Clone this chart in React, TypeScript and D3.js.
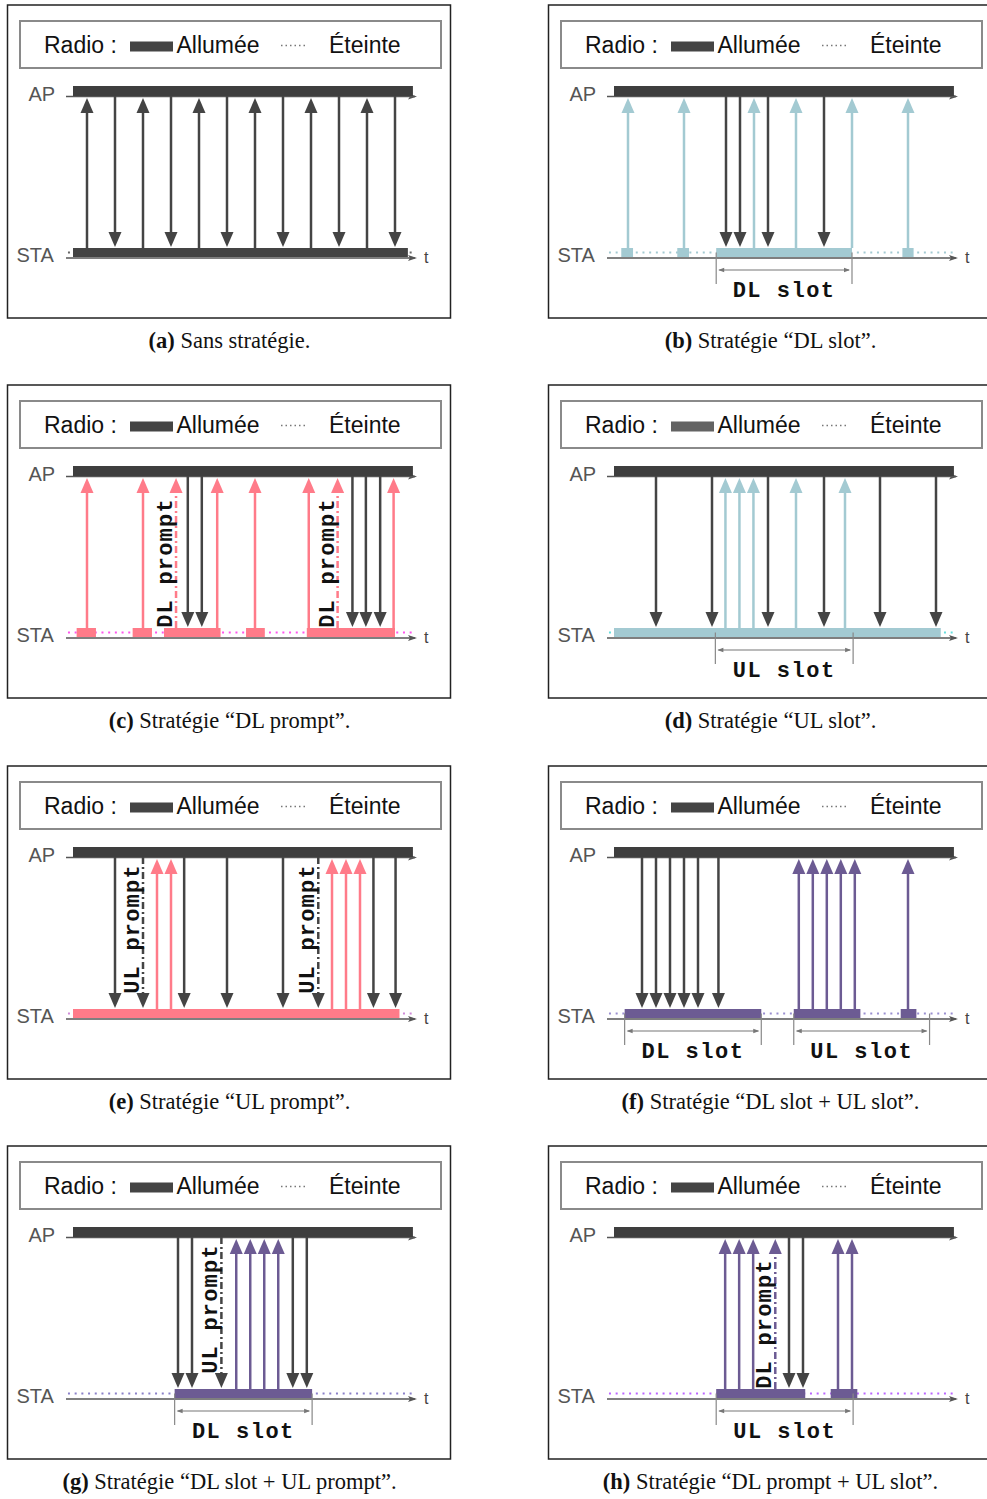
import React from "react";
import * as d3 from "d3";

// ---------- data ----------
const panelIds = ["a", "b", "c", "d", "e", "f", "g", "h"];
const captions = [
  "Sans stratégie.",
  "Stratégie “DL slot”.",
  "Stratégie “DL prompt”.",
  "Stratégie “UL slot”.",
  "Stratégie “UL prompt”.",
  "Stratégie “DL slot + UL slot”.",
  "Stratégie “DL slot + UL prompt”.",
  "Stratégie “DL prompt + UL slot”.",
];
const legendLabels = ["Radio :", "Allumée", "Éteinte"];
const nodeLabels = ["AP", "STA", "t"];

const themeColors = ["#444444", "#a3cad2", "#ff7b89", "#a3cad2", "#ff7b89", "#6c5b93", "#6c5b93", "#6c5b93"];
const dotColors = ["#666666", "#a3cad2", "#ff55ee", "#66dede", "#d08ad8", "#9a8fd0", "#8a80c8", "#bb66ff"];
const legendBarColors = ["#444444", "#444444", "#444444", "#636363", "#444444", "#444444", "#444444", "#444444"];

// STA radio "on" intervals (time units)
const staOn_a = [[0, 11.96]];
const staOn_b = [[0.26, 0.68], [2.26, 2.68], [3.65, 8.5], [10.3, 10.7]];
const staOn_c = [[0.13, 0.82], [2.13, 2.82], [3.25, 5.27], [6.18, 6.85], [8.35, 11.5]];
const staOn_d = [[0, 11.67]];
const staOn_e = [[0, 11.66]];
const staOn_f = [[0.38, 5.26], [6.42, 8.8], [10.24, 10.8]];
const staOn_g = [[3.63, 8.54]];
const staOn_h = [[3.65, 6.83], [7.74, 8.69]];

// uplink (STA -> AP) arrows
const up_a = [0.5, 2.5, 4.5, 6.5, 8.5, 10.5];
const up_b = [0.5, 2.5, 5.0, 6.5, 8.5, 10.5];
const up_c = [0.5, 2.5, 5.15, 6.5, 8.42, 11.45];
const up_d = [3.98, 4.48, 4.98, 6.5, 8.25];
const up_e = [3.0, 3.5, 9.25, 9.75, 10.25];
const up_f = [6.6, 7.1, 7.6, 8.1, 8.6, 10.5];
const up_g = [5.83, 6.33, 6.83, 7.33];
const up_h = [3.97, 4.47, 4.97, 8.0, 8.5];

// downlink (AP -> STA) arrows
const down_a = [1.5, 3.5, 5.5, 7.5, 9.5, 11.5];
const down_b = [4.0, 4.5, 5.5, 7.5];
const down_c = [4.1, 4.6, 9.98, 10.46, 10.97];
const down_d = [1.5, 3.5, 5.5, 7.5, 9.5, 11.5];
const down_e = [1.5, 3.97, 5.5, 7.5, 10.73, 11.52];
const down_f = [1.0, 1.5, 2.0, 2.5, 3.0, 3.73];
const down_g = [3.75, 4.25, 7.85, 8.35];
const down_h = [6.25, 6.75];

// prompt (dashed) arrows
const promptUp_c = [3.68, 9.45];
const promptDown_e = [2.5, 8.76];
const promptDown_g = [5.3];
const promptUp_h = [5.76];
const promptLabels = ["DL prompt", "UL prompt"];

// slots
const slots_b = [[3.65, 8.5]];
const slots_d = [[3.62, 8.54]];
const slots_f = [[0.38, 5.26], [6.42, 11.27]];
const slots_g = [[3.63, 8.54]];
const slots_h = [[3.65, 8.54]];
const slotNames = ["DL slot", "UL slot"];

const panels = [
  { sta: staOn_a, up: up_a, down: down_a, pUp: [], pDown: [], slots: [], slotNames: [] },
  { sta: staOn_b, up: up_b, down: down_b, pUp: [], pDown: [], slots: slots_b, slotNames: [slotNames[0]] },
  { sta: staOn_c, up: up_c, down: down_c, pUp: promptUp_c, pDown: [], slots: [], slotNames: [] },
  { sta: staOn_d, up: up_d, down: down_d, pUp: [], pDown: [], slots: slots_d, slotNames: [slotNames[1]] },
  { sta: staOn_e, up: up_e, down: down_e, pUp: [], pDown: promptDown_e, slots: [], slotNames: [] },
  { sta: staOn_f, up: up_f, down: down_f, pUp: [], pDown: [], slots: slots_f, slotNames: slotNames },
  { sta: staOn_g, up: up_g, down: down_g, pUp: [], pDown: promptDown_g, slots: slots_g, slotNames: [slotNames[0]] },
  { sta: staOn_h, up: up_h, down: down_h, pUp: promptUp_h, pDown: [], slots: slots_h, slotNames: [slotNames[1]] },
];

// ---------- layout ----------
const colX = [8, 549];
const rowY = [5, 385, 766, 1146];
const PW = 443;
const PH = 313;
const SANS = "'Liberation Sans', Arial, sans-serif";
const MONO = "'Liberation Mono', 'DejaVu Sans Mono', monospace";
const SERIF = "'Liberation Serif', 'Times New Roman', serif";
const DARK = "#444444";

const x = d3.scaleLinear().domain([0, 12]).range([65, 401]);

const AP_TOP = 81;
const AP_BOT = 91;
const STA_TOP = 243;
const STA_BOT = 252;
const STA_MID = 247.5;
const AXIS_AP = 91.5;
const AXIS_STA = 253;
const HEAD_L = 15;
const HEAD_W = 6.5;

function UpArrow({ t, color, dashed }: { t: number; color: string; dashed?: boolean }) {
  const cx = x(t);
  const tip = AP_BOT + 2;
  return (
    <g>
      <line x1={cx} x2={cx} y1={STA_TOP} y2={tip + HEAD_L - 1} stroke={color} strokeWidth={2.5}
        strokeDasharray={dashed ? "7,3,2,3" : undefined} />
      <path d={`M${cx},${tip} L${cx - HEAD_W},${tip + HEAD_L} L${cx + HEAD_W},${tip + HEAD_L} Z`} fill={color} />
    </g>
  );
}

function DownArrow({ t, color, dashed }: { t: number; color: string; dashed?: boolean }) {
  const cx = x(t);
  const tip = STA_TOP - 1;
  return (
    <g>
      <line x1={cx} x2={cx} y1={AP_BOT} y2={tip - HEAD_L + 1} stroke={color} strokeWidth={2.5}
        strokeDasharray={dashed ? "7,3,2,3" : undefined} />
      <path d={`M${cx},${tip} L${cx - HEAD_W},${tip - HEAD_L} L${cx + HEAD_W},${tip - HEAD_L} Z`} fill={color} />
    </g>
  );
}

function AxisArrow({ y }: { y: number }) {
  const x0 = 58;
  const x1 = 409;
  return (
    <g>
      <line x1={x0} x2={x1 - 2} y1={y} y2={y} stroke="#555" strokeWidth={1.6} />
      <path d={`M${x1},${y} L${x1 - 9},${y - 3} L${x1 - 7},${y} L${x1 - 9},${y + 3} Z`} fill="#555" />
    </g>
  );
}

function Panel({ i }: { i: number }) {
  const p = panels[i];
  const ox = colX[i % 2];
  const oy = rowY[Math.floor(i / 2)];
  const theme = themeColors[i];
  const dot = dotColors[i];
  return (
    <g transform={`translate(${ox},${oy})`}>
      <rect x={-0.5} y={0} width={PW} height={PH} fill="white" stroke="#222" strokeWidth={1.5} />
      {/* legend */}
      <rect x={12} y={16} width={421} height={47} fill="none" stroke="#8a8a8a" strokeWidth={2} />
      <text x={36} y={48} fontFamily={SANS} fontSize={23} fill="#111">{legendLabels[0]}</text>
      <rect x={122} y={36.5} width={43} height={10} fill={legendBarColors[i]} />
      <text x={168.5} y={48} fontFamily={SANS} fontSize={23} fill="#111">{legendLabels[1]}</text>
      <line x1={273} x2={299} y1={40.5} y2={40.5} stroke="#777" strokeWidth={1.5} strokeDasharray="1.5,3" />
      <text x={321} y={48} fontFamily={SANS} fontSize={23} fill="#111">{legendLabels[2]}</text>

      {/* node labels */}
      <text x={20.5} y={96} fontFamily={SANS} fontSize={20} fill="#555">{nodeLabels[0]}</text>
      <text x={8.5} y={257} fontFamily={SANS} fontSize={20} fill="#555">{nodeLabels[1]}</text>
      <text x={416} y={258} fontFamily={SANS} fontSize={16} fill="#444">{nodeLabels[2]}</text>

      {/* axes */}
      <AxisArrow y={AXIS_AP} />
      <AxisArrow y={AXIS_STA} />

      {/* AP always on */}
      <rect x={x(0)} y={AP_TOP} width={x(12.14) - x(0)} height={AP_BOT - AP_TOP} fill="#3e3e3e" />

      {/* STA off (dotted) */}
      <line x1={x(-0.18)} x2={x(12.14)} y1={STA_MID} y2={STA_MID} stroke={dot} strokeWidth={2}
        strokeDasharray="2,4.7" />
      {/* STA on */}
      {p.sta.map((s, k) => (
        <rect key={k} x={x(s[0])} y={STA_TOP} width={x(s[1]) - x(s[0])} height={STA_BOT - STA_TOP} fill={theme} />
      ))}

      {/* slots */}
      {p.slots.map((s, k) => {
        const a = x(s[0]);
        const b = x(s[1]);
        return (
          <g key={k}>
            <line x1={a} x2={a} y1={STA_MID} y2={279} stroke="#888" strokeWidth={1.2} />
            <line x1={b} x2={b} y1={STA_MID} y2={279} stroke="#888" strokeWidth={1.2} />
            <line x1={a + 3} x2={b - 3} y1={265} y2={265} stroke="#777" strokeWidth={1.1} />
            <path d={`M${a + 2},265 L${a + 8},262.8 L${a + 8},267.2 Z`} fill="#777" />
            <path d={`M${b - 2},265 L${b - 8},262.8 L${b - 8},267.2 Z`} fill="#777" />
            <text x={(a + b) / 2} y={291.5} textAnchor="middle" fontFamily={MONO} fontWeight="bold"
              fontSize={22} letterSpacing={1.5} fill="#111">{p.slotNames[k]}</text>
          </g>
        );
      })}

      {/* arrows */}
      {p.up.map((t, k) => <UpArrow key={"u" + k} t={t} color={theme} />)}
      {p.down.map((t, k) => <DownArrow key={"d" + k} t={t} color={DARK} />)}
      {p.pUp.map((t, k) => (
        <g key={"pu" + k}>
          <UpArrow t={t} color={theme} dashed />
          <text transform={`translate(${x(t) - 4},178) rotate(-90)`} textAnchor="middle" fontFamily={MONO}
            fontWeight="bold" fontSize={22} letterSpacing={1.2} fill="#111">{promptLabels[0]}</text>
        </g>
      ))}
      {p.pDown.map((t, k) => (
        <g key={"pd" + k}>
          <DownArrow t={t} color={DARK} dashed />
          <text transform={`translate(${x(t) - 4},163) rotate(-90)`} textAnchor="middle" fontFamily={MONO}
            fontWeight="bold" fontSize={22} letterSpacing={1.2} fill="#111">{promptLabels[1]}</text>
        </g>
      ))}

      {/* caption */}
      <text x={PW / 2} y={342.5} textAnchor="middle" fontFamily={SERIF} fontSize={22.5} fill="#111">
        <tspan fontWeight="bold">({panelIds[i]})</tspan> {captions[i]}
      </text>
    </g>
  );
}

export default function App() {
  return (
    <svg width={987} height={1499} style={{ position: "absolute", left: 0, top: 0, background: "white" }}>
      <rect x={0} y={0} width={987} height={1499} fill="white" />
      {panels.map((_, i) => <Panel key={i} i={i} />)}
    </svg>
  );
}
